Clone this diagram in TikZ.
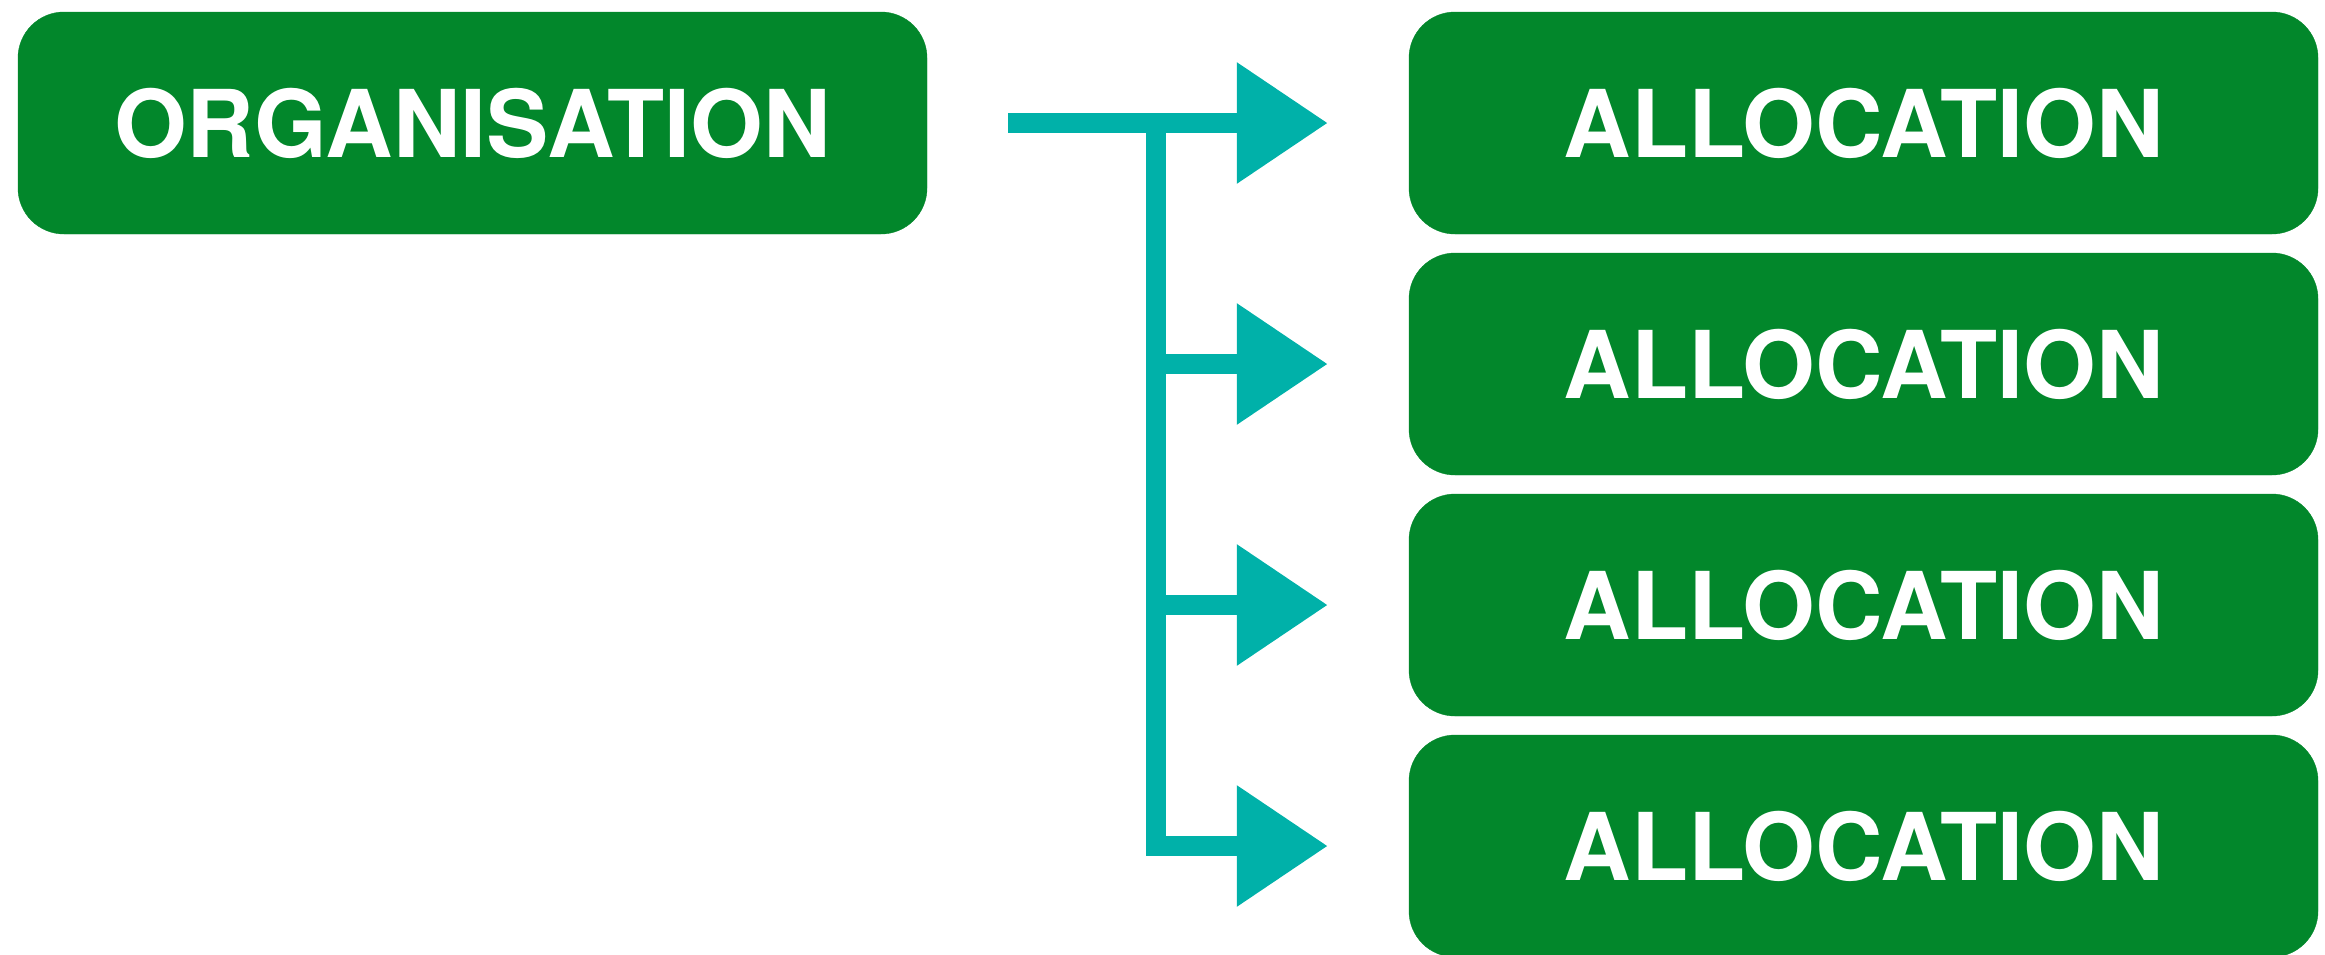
\documentclass[tikz,border=0pt]{standalone}
\usepackage{fontspec}
\setmainfont{TeX Gyre Heros}
\usetikzlibrary{arrows.meta}

\definecolor{boxgreen}{RGB}{2,135,43}
\definecolor{chalkteal}{RGB}{0,177,169}

\begin{document}
\begin{tikzpicture}[x=1pt,y=-1pt,
  tile/.style={draw=boxgreen,line width=0.4pt,fill=boxgreen,rounded corners=46pt,
    minimum width=909pt,minimum height=222pt,inner sep=0pt,text=white,
    font=\fontsize{93.5pt}{112pt}\selectfont\bfseries},
  link/.style={chalkteal,line width=20pt,shorten >=81pt,-{Triangle[length=91pt,width=116pt]}}]
\useasboundingbox (0,0) rectangle (2325,954);
% boxes
\node[tile] (org) at (472.5,123) {ORGANISATION};
\foreach \i/\ypos in {1/123,2/364,3/605,4/846}
  \node[tile] (alloc\i) at (1863.5,\ypos) {ALLOCATION};
% arrows
\coordinate (split) at (1156,123);
\draw[link,shorten <=81pt] (org.east) -- (alloc1.west);
\foreach \i in {2,3,4}
  \draw[link] (split) |- (alloc\i.west);
\end{tikzpicture}
\end{document}
